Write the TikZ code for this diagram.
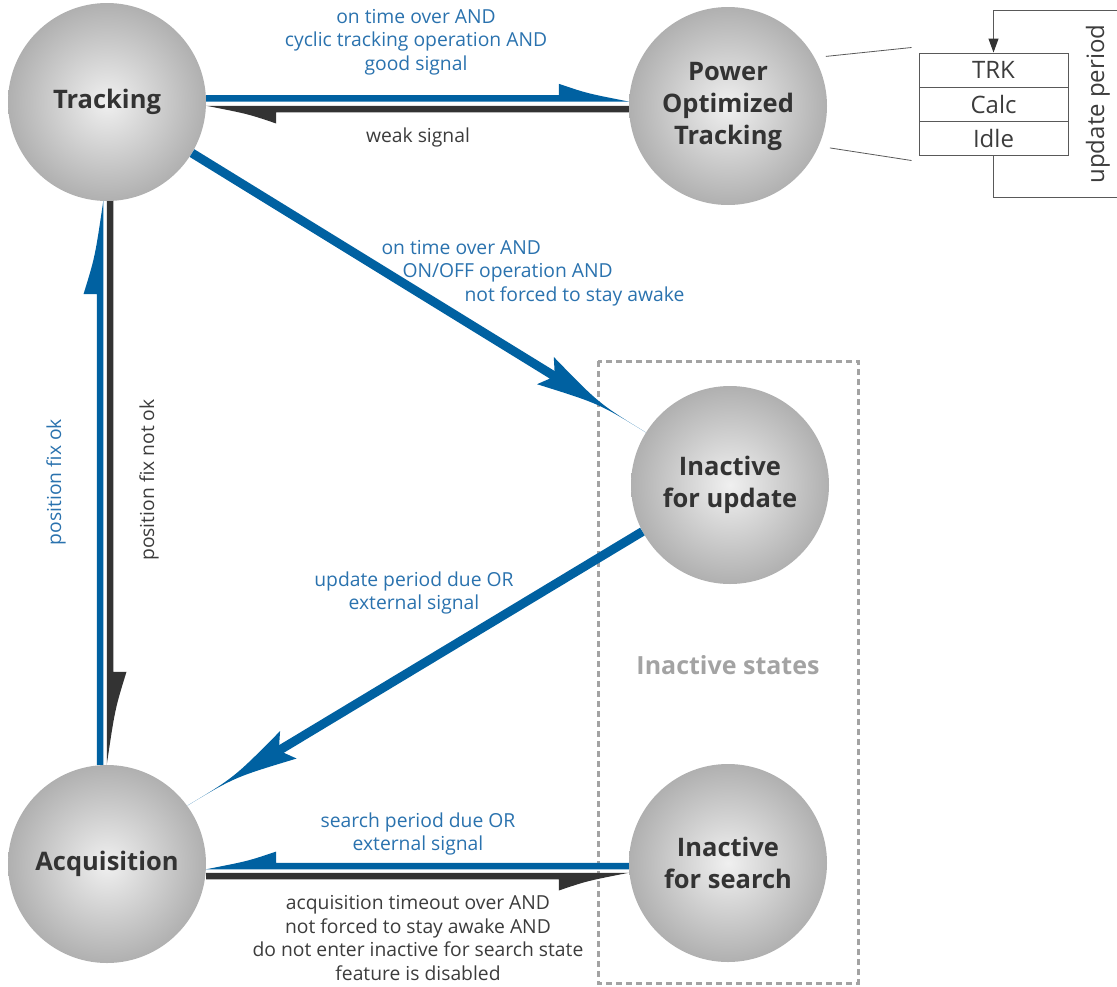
\documentclass[tikz,border=0pt]{standalone}
\usepackage{fontspec}
\setmainfont{Open Sans}
\usepackage{tikz}
\usetikzlibrary{calc}
\usetikzlibrary{arrows.meta}

\definecolor{flowblue}{HTML}{0061A1}
\definecolor{flowdark}{HTML}{333333}
\definecolor{labelblue}{HTML}{2A72AE}
\definecolor{labeldark}{HTML}{3C3C3C}
\definecolor{groupgray}{HTML}{A3A3A3}

\newcommand{\statefont}{\fontsize{25.5}{32}\selectfont\bfseries}
\newcommand{\condfont}{\fontsize{19.3}{23.5}\selectfont}
\newcommand{\cycfont}{\fontsize{24}{28}\selectfont}
\newcommand{\groupfont}{\fontsize{25}{28}\selectfont\bfseries}

% half arrow: colour, from, to, head side, other side, head length, head spread
\newcommand{\halfarrow}[7]{%
  \coordinate (ha-c) at ($(#3)!#6!(#2)$);
  \coordinate (ha-m) at ($(ha-c)!0.4!(#3)$);
  \fill[#1] ($(#2)!3.25pt!#4:(#3)$) -- ($(ha-c)!3.25pt!#4:(#3)$)
    -- ($(ha-c)!#7!#4:(#3)$)
    .. controls ($(ha-m)!5pt!#4:(#3)$) .. ($(#3)!3.25pt!#4:(#2)$)
    -- ($(#2)!3.25pt!#5:(#3)$) -- cycle;
}
% full arrow: colour, from, to, head length, wing length
\newcommand{\fullarrow}[5]{%
  \coordinate (fa-c) at ($(#3)!#4!(#2)$);
  \coordinate (fa-w) at ($(#3)!#5!(#2)$);
  \fill[#1] ($(#2)!4.5pt!90:(#3)$) -- ($(fa-c)!4.5pt!90:(#3)$)
    -- ($(fa-w)!16pt!90:(#3)$) .. controls ($(fa-c)!0.5!(#3)$) .. (#3)
    .. controls ($(fa-c)!0.5!(#3)$) .. ($(fa-w)!16pt!-90:(#3)$)
    -- ($(fa-c)!4.5pt!-90:(#3)$) -- ($(#2)!4.5pt!-90:(#3)$) -- cycle;
}

\tikzset{
  state/.style={circle, minimum size=198pt, inner sep=0pt, inner color=black!6,
    outer color=black!31, font=\statefont, text=flowdark, align=center},
  cond/.style={font=\condfont, align=center},
  cycbox/.style={draw=black!65, line width=1pt, minimum width=149pt,
    minimum height=34pt, inner sep=0pt, font=\cycfont, text=labeldark},
}

\begin{document}
\begin{tikzpicture}[x=1pt, y=1pt]
\useasboundingbox (0,0) rectangle (1117,-986);

% inactive group
\draw[groupgray, line width=3pt, dash pattern=on 6pt off 4pt] (598,-361) rectangle (858,-983);
\node[font=\groupfont, text=groupgray] (grp) at (728,-665) {Inactive states};

% states
\node[state] (trk) at (107,-102) {Tracking};
\node[state] (pot) at (728,-106) {Power\\Optimized\\Tracking};
\node[state] (ifu) at (730,-485) {Inactive\\for update};
\node[state] (acq) at (107,-864) {Acquisition};
\node[state] (ifs) at (728,-863) {Inactive\\for search};

% tracking <-> power optimized tracking
\coordinate (p1) at ([yshift=3.7pt]trk.east);
\coordinate (p2) at (pot.west |- p1);
\halfarrow{flowblue}{p1}{p2}{90}{-90}{70pt}{14.5pt}
\coordinate (p3) at ([yshift=-7pt]trk.east);
\coordinate (p4) at (pot.west |- p3);
\halfarrow{flowdark}{p4}{p3}{90}{-90}{70pt}{14.5pt}
\node[cond, text=labelblue] (l-pot) at (416,-42) {on time over AND\\cyclic tracking operation AND\\good signal};
\node[cond, text=labeldark] (l-weak) at (418,-137) {weak signal};

% tracking <-> acquisition
\coordinate (v1) at ([xshift=-7pt]acq.north);
\coordinate (v2) at ([xshift=-7pt]trk.south);
\halfarrow{flowblue}{v1}{v2}{90}{-90}{93pt}{16.5pt}
\coordinate (v3) at ([xshift=3pt]trk.south);
\coordinate (v4) at ([xshift=3pt]acq.north);
\halfarrow{flowdark}{v3}{v4}{90}{-90}{93pt}{16.5pt}
\node[cond, text=labelblue, rotate=90] (l-ok) at (56,-482) {position fix ok};
\node[cond, text=labeldark, rotate=90] (l-nok) at (149,-480) {position fix not ok};

% diagonals
\fullarrow{flowblue}{trk.-31.5}{ifu.148.5}{110pt}{118pt}
\node[cond, text=labelblue, anchor=west, align=left] (l-ifu) at (378,-273)
  {on time over AND\\\hspace*{21pt}ON/OFF operation AND\\\hspace*{83pt}not forced to stay awake};
\fullarrow{flowblue}{ifu.208}{acq.36}{110pt}{118pt}
\node[cond, text=labelblue] (l-upd) at (414,-593) {update period due OR\\external signal};

% acquisition <-> inactive for search
\coordinate (b1) at ([yshift=-3pt]ifs.west);
\coordinate (b2) at (acq.east |- b1);
\halfarrow{flowblue}{b1}{b2}{-90}{90}{70pt}{14.5pt}
\coordinate (b3) at ([yshift=-12pt]acq.east);
\coordinate (b4) at (ifs.west |- b3);
\halfarrow{flowdark}{b3}{b4}{-90}{90}{70pt}{14.5pt}
\node[cond, text=labelblue] (l-srch) at (418,-834) {search period due OR\\external signal};
\node[cond, text=labeldark] (l-tmo) at (418,-938) {acquisition timeout over AND\\not forced to stay awake AND\\do not enter inactive for search state\\feature is disabled};

% update cycle
\node[cycbox] (ctrk) at (993.5,-70) {TRK};
\node[cycbox] (ccalc) at (993.5,-104) {Calc};
\node[cycbox] (cidle) at (993.5,-138) {Idle};
\draw[black!65, line width=0.8pt] ([xshift=12pt]pot.30) -- ([shift={(-7pt,5pt)}]ctrk.north west);
\draw[black!65, line width=0.8pt] ([xshift=12pt]pot.-25) -- ([shift={(-7pt,-5pt)}]cidle.south west);
\draw[black!65, line width=1pt, -{Triangle[length=14pt, width=10pt, color=flowdark]}]
  (cidle.south) |- (1125,-197) -- (1125,-10) -| (ctrk.north);
\node[font=\cycfont, text=labeldark, rotate=90] (l-per) at (1098,-104) {update period};

\end{tikzpicture}
\end{document}
